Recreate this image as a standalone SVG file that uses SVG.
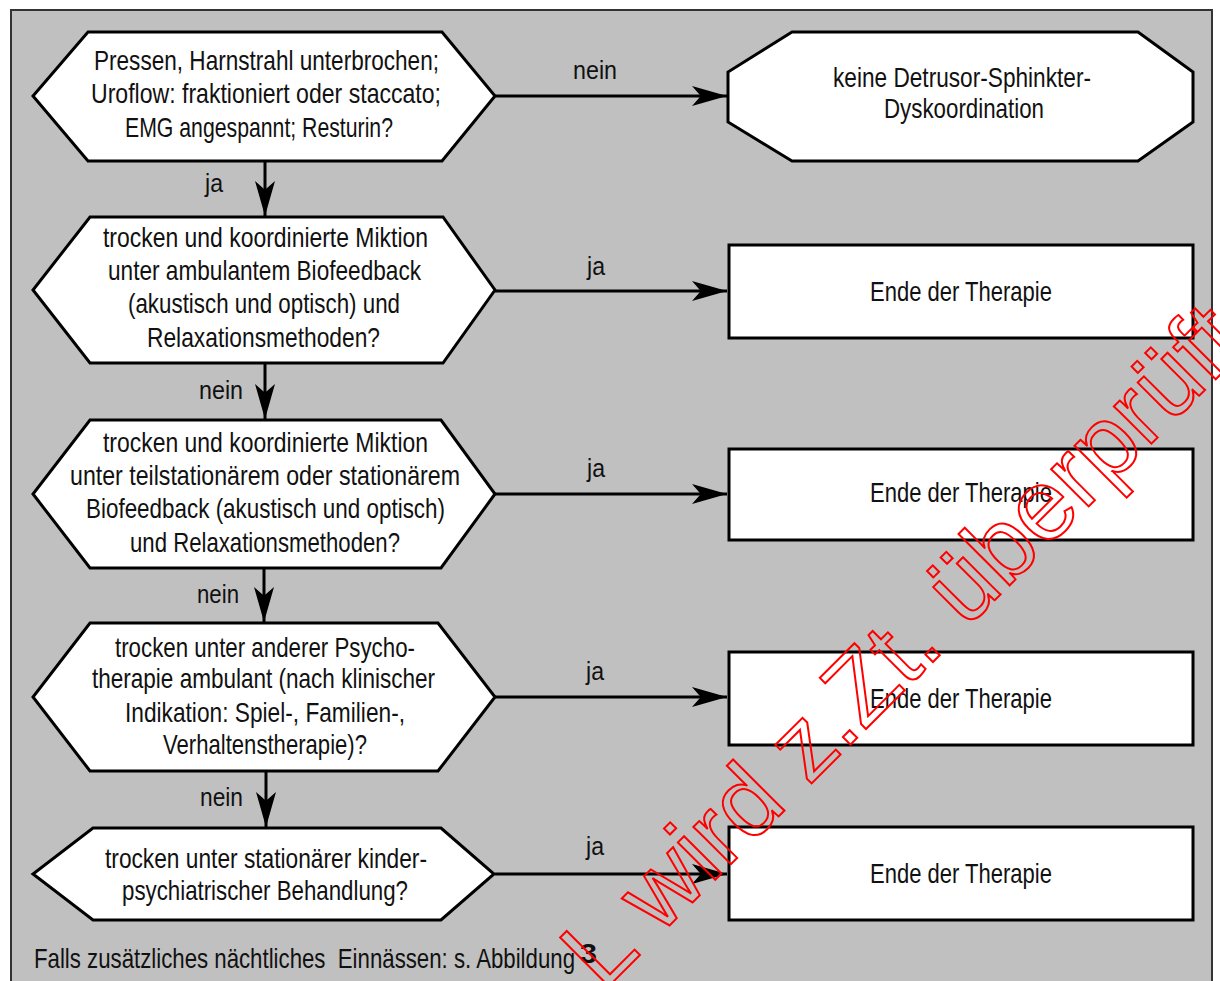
<svg xmlns="http://www.w3.org/2000/svg" width="1220" height="981" viewBox="0 0 1220 981">
<style>
.node{fill:#fff;stroke:#000;stroke-width:3;stroke-linejoin:miter}
.t{font-family:"Liberation Sans",Arial,sans-serif;font-size:28px;fill:#111}
.lb{font-family:"Liberation Sans",Arial,sans-serif;font-size:26px;fill:#111}
.con{stroke:#000;stroke-width:3;fill:none}
.wm{font-family:"Liberation Sans",Arial,sans-serif;font-size:100px;fill:none;stroke:#ff0000;stroke-width:2}
</style>
<defs>
<marker id="ah" markerUnits="userSpaceOnUse" markerWidth="40" markerHeight="40" viewBox="-30 -10 32 20" refX="0" refY="0" orient="auto">
<path d="M0,0 L-28,-8 L-21,0 L-28,8 Z" fill="#000"/>
</marker>
</defs>
<rect x="0" y="0" width="1220" height="981" fill="#fff"/>
<rect id="frame" x="11" y="10" width="1201" height="990" fill="#c0c0c0" stroke="#333" stroke-width="2"/>

<g id="connectors">
<line class="con" x1="495" y1="96" x2="727" y2="96" marker-end="url(#ah)"/>
<line class="con" x1="495" y1="291" x2="727" y2="291" marker-end="url(#ah)"/>
<line class="con" x1="495" y1="494" x2="727" y2="494" marker-end="url(#ah)"/>
<line class="con" x1="495" y1="697" x2="727" y2="697" marker-end="url(#ah)"/>
<line class="con" x1="495" y1="874" x2="727" y2="874" marker-end="url(#ah)"/>
<line class="con" x1="265" y1="161" x2="265" y2="216" marker-end="url(#ah)"/>
<line class="con" x1="265" y1="363" x2="265" y2="419" marker-end="url(#ah)"/>
<line class="con" x1="264" y1="568" x2="264" y2="622" marker-end="url(#ah)"/>
<line class="con" x1="266" y1="771" x2="266" y2="827" marker-end="url(#ah)"/>
<text class="lb" x="573" y="79" textLength="44" lengthAdjust="spacingAndGlyphs">nein</text>
<text class="lb" x="587" y="275" textLength="18" lengthAdjust="spacingAndGlyphs">ja</text>
<text class="lb" x="587" y="477" textLength="18" lengthAdjust="spacingAndGlyphs">ja</text>
<text class="lb" x="586" y="680" textLength="18" lengthAdjust="spacingAndGlyphs">ja</text>
<text class="lb" x="586" y="855" textLength="18" lengthAdjust="spacingAndGlyphs">ja</text>
<text class="lb" x="205" y="192" textLength="18" lengthAdjust="spacingAndGlyphs">ja</text>
<text class="lb" x="199" y="399" textLength="44" lengthAdjust="spacingAndGlyphs">nein</text>
<text class="lb" x="197" y="603" textLength="42" lengthAdjust="spacingAndGlyphs">nein</text>
<text class="lb" x="200" y="806" textLength="43" lengthAdjust="spacingAndGlyphs">nein</text>
</g>

<g id="q1">
<polygon class="node" points="88,32 442,32 495,96 442,161 88,161 33,96"/>
<text class="t" x="94" y="70" textLength="345" lengthAdjust="spacingAndGlyphs">Pressen, Harnstrahl unterbrochen;</text>
<text class="t" x="91" y="103" textLength="350" lengthAdjust="spacingAndGlyphs">Uroflow: fraktioniert oder staccato;</text>
<text class="t" x="125" y="137" textLength="268" lengthAdjust="spacingAndGlyphs">EMG angespannt; Resturin?</text>
</g>

<g id="r1">
<polygon class="node" points="792,32 1138,32 1193,72 1193,122 1138,161 792,161 728,122 728,72"/>
<text class="t" x="833" y="87" textLength="258" lengthAdjust="spacingAndGlyphs">keine Detrusor-Sphinkter-</text>
<text class="t" x="884" y="118" textLength="160" lengthAdjust="spacingAndGlyphs">Dyskoordination</text>
</g>

<g id="q2">
<polygon class="node" points="90,217 443,217 495,290 443,363 90,363 33,290"/>
<text class="t" x="103" y="247" textLength="325" lengthAdjust="spacingAndGlyphs">trocken und koordinierte Miktion</text>
<text class="t" x="108" y="280" textLength="313" lengthAdjust="spacingAndGlyphs">unter ambulantem Biofeedback</text>
<text class="t" x="128" y="313" textLength="272" lengthAdjust="spacingAndGlyphs">(akustisch und optisch) und</text>
<text class="t" x="147" y="347" textLength="233" lengthAdjust="spacingAndGlyphs">Relaxationsmethoden?</text>
</g>

<g id="r2">
<rect class="node" x="729" y="245" width="464" height="93"/>
<text class="t" x="870" y="301" textLength="182" lengthAdjust="spacingAndGlyphs">Ende der Therapie</text>
</g>

<g id="q3">
<polygon class="node" points="90,420 441,420 495,494 441,568 90,568 33,494"/>
<text class="t" x="103" y="452" textLength="325" lengthAdjust="spacingAndGlyphs">trocken und koordinierte Miktion</text>
<text class="t" x="70" y="485" textLength="390" lengthAdjust="spacingAndGlyphs">unter teilstationärem oder stationärem</text>
<text class="t" x="86" y="518" textLength="359" lengthAdjust="spacingAndGlyphs">Biofeedback (akustisch und optisch)</text>
<text class="t" x="130" y="552" textLength="270" lengthAdjust="spacingAndGlyphs">und Relaxationsmethoden?</text>
</g>

<g id="r3">
<rect class="node" x="729" y="449" width="464" height="91"/>
<text class="t" x="870" y="502" textLength="182" lengthAdjust="spacingAndGlyphs">Ende der Therapie</text>
</g>

<g id="q4">
<polygon class="node" points="90,623 438,623 495,697 438,771 90,771 33,697"/>
<text class="t" x="115" y="657" textLength="300" lengthAdjust="spacingAndGlyphs">trocken unter anderer Psycho-</text>
<text class="t" x="92" y="688" textLength="343" lengthAdjust="spacingAndGlyphs">therapie ambulant (nach klinischer</text>
<text class="t" x="125" y="722" textLength="280" lengthAdjust="spacingAndGlyphs">Indikation: Spiel-, Familien-,</text>
<text class="t" x="163" y="754" textLength="204" lengthAdjust="spacingAndGlyphs">Verhaltenstherapie)?</text>
</g>

<g id="r4">
<rect class="node" x="729" y="652" width="464" height="93"/>
<text class="t" x="870" y="708" textLength="182" lengthAdjust="spacingAndGlyphs">Ende der Therapie</text>
</g>

<g id="q5">
<polygon class="node" points="93,828 441,828 494,874 441,920 93,920 33,874"/>
<text class="t" x="105" y="868" textLength="322" lengthAdjust="spacingAndGlyphs">trocken unter stationärer kinder-</text>
<text class="t" x="122" y="900" textLength="286" lengthAdjust="spacingAndGlyphs">psychiatrischer Behandlung?</text>
</g>

<g id="r5">
<rect class="node" x="729" y="827" width="464" height="93"/>
<text class="t" x="870" y="883" textLength="182" lengthAdjust="spacingAndGlyphs">Ende der Therapie</text>
</g>

<g id="footer">
<text class="t" x="34" y="968" textLength="541" lengthAdjust="spacingAndGlyphs" style="white-space:pre">Falls zusätzliches nächtliches  Einnässen: s. Abbildung</text>
<text class="t" x="580" y="963" font-weight="bold" textLength="17" lengthAdjust="spacingAndGlyphs">3</text>
</g>

<g id="watermark">
<text class="wm" x="603" y="992" transform="rotate(-45 603 992)">L wird z.Zt. überprüft</text>
</g>
</svg>
